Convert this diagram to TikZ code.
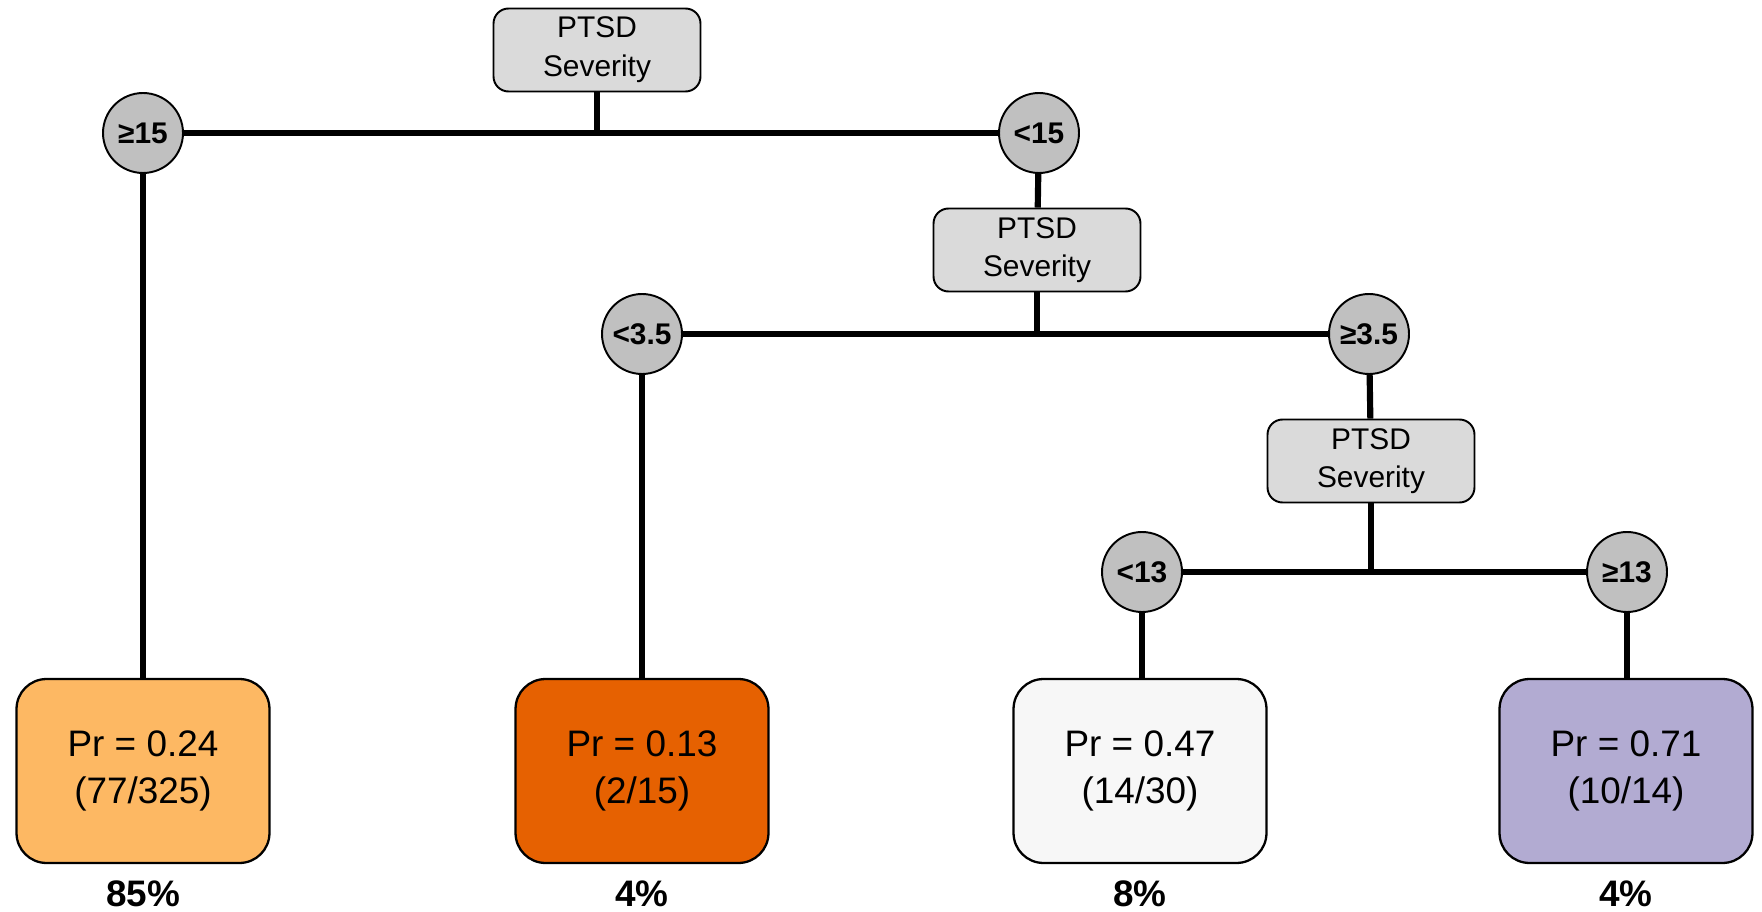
\documentclass[tikz,border=0pt]{standalone}
\usepackage{fontspec}
\setmainfont{Liberation Sans}
\definecolor{boxgray}{RGB}{218,218,218}
\definecolor{cutgray}{RGB}{192,192,192}
\definecolor{lightorange}{RGB}{253,184,99}
\definecolor{darkorange}{RGB}{230,97,1}
\definecolor{offwhite}{RGB}{247,247,247}
\definecolor{lavender}{RGB}{178,171,210}
\usetikzlibrary{positioning}

\begin{document}
\begin{tikzpicture}[x=0.02cm,y=-0.02cm,
    split/.style={draw,line width=1.1pt,rounded corners=0.3cm,fill=boxgray,
        minimum width=4.14cm,minimum height=1.66cm,align=center,
        font=\fontsize{17}{22}\selectfont},
    cut/.style={draw,line width=1.1pt,circle,fill=cutgray,minimum size=1.6cm,
        inner sep=0pt,font=\fontsize{17}{18}\selectfont\bfseries},
    leaf/.style={draw,line width=1.3pt,rounded corners=0.6cm,
        minimum width=5.06cm,minimum height=3.68cm,align=center,
        font=\fontsize{21}{27}\selectfont},
    share/.style={inner sep=0pt,font=\fontsize{21}{24}\selectfont\bfseries},
    branch/.style={line width=3.5pt}]
        \useasboundingbox (0,0) rectangle (1762,912);
        % first split
        \node[split] (sev1) at (597,50) {PTSD\\Severity};
        \node[cut] (geq15) at (143,133) {≥15};
        \node[cut] (lt15) at (1039,133) {<15};
        % second split
        \node[split] (sev2) at (1037,250) {PTSD\\Severity};
        \node[cut] (lt35) at (642,334) {<3.5};
        \node[cut] (geq35) at (1369,334) {≥3.5};
        % third split
        \node[split] (sev3) at (1371,461) {PTSD\\Severity};
        \node[cut] (lt13) at (1142,572) {<13};
        \node[cut] (geq13) at (1627,572) {≥13};
        % leaves
        \node[leaf,fill=lightorange] (leafA) at (143,771) {Pr = 0.24\\(77/325)};
        \node[leaf,fill=darkorange] (leafB) at (642,771) {Pr = 0.13\\(2/15)};
        \node[leaf,fill=offwhite] (leafC) at (1140,771) {Pr = 0.47\\(14/30)};
        \node[leaf,fill=lavender] (leafD) at (1626,771) {Pr = 0.71\\(10/14)};
        \node[share] (pctA) at (143,894) {85\%};
        \node[share] (pctB) at (642,894) {4\%};
        \node[share] (pctC) at (1140,894) {8\%};
        \node[share] (pctD) at (1626,894) {4\%};
        % branches
        \draw[branch] (geq15) -- (lt15);
        \draw[branch] (sev1) -- (sev1 |- geq15);
        \draw[branch] (geq15) -- (leafA);
        \draw[branch] (lt15) -- (sev2);
        \draw[branch] (lt35) -- (geq35);
        \draw[branch] (sev2) -- (sev2 |- lt35);
        \draw[branch] (lt35) -- (leafB);
        \draw[branch] (geq35) -- (sev3);
        \draw[branch] (lt13) -- (geq13);
        \draw[branch] (sev3) -- (sev3 |- lt13);
        \draw[branch] (lt13) -- (lt13 |- leafC.north);
        \draw[branch] (geq13) -- (geq13 |- leafD.north);
\end{tikzpicture}
\end{document}
